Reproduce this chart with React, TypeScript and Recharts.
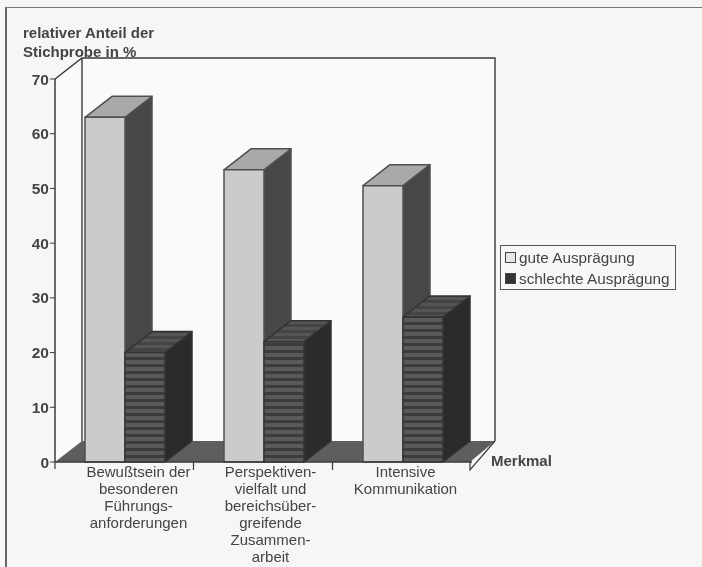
import { BarChart, Bar, XAxis, YAxis, Legend, usePlotArea } from 'recharts';

const categories = [
  ['Bewußtsein der', 'besonderen', 'Führungs-', 'anforderungen'],
  ['Perspektiven-', 'vielfalt und', 'bereichsüber-', 'greifende', 'Zusammen-', 'arbeit'],
  ['Intensive', 'Kommunikation'],
];
const guteValues = [63, 53.4, 50.5];
const schlechteValues = [20, 22, 26.5];
const yTicks = [0, 10, 20, 30, 40, 50, 60, 70];
const yTitle = ['relativer Anteil der', 'Stichprobe in %'];
const xTitle = 'Merkmal';
const seriesNames = ['gute Ausprägung', 'schlechte Ausprägung'];

const data = categories.map((lines, i) => ({
  name: lines.join(' '),
  gute: guteValues[i],
  schlechte: schlechteValues[i],
}));

const DX = 27;
const DY = 21;
const INK = '#3a3a3a';
const TEXT = '#444444';
const FONT = '"Liberation Sans", Arial, sans-serif';
const labelShift = [14, 7, 3];

function Box({ x, y, width, height, front, top, side, edge }: any) {
  const r = x + width;
  const b = y + height;
  return (
    <g stroke={edge} strokeWidth={1.5} strokeLinejoin="round">
      <polygon points={`${r},${y} ${r + DX},${y - DY} ${r + DX},${b - DY} ${r},${b}`} fill={side} />
      <polygon points={`${x},${y} ${x + DX},${y - DY} ${r + DX},${y - DY} ${r},${y}`} fill={top} />
      <rect x={x} y={y} width={width} height={height} fill={front} />
    </g>
  );
}

function GoodBar(props: any) {
  return <Box {...props} front="#cbcbcb" top="#a9a9a9" side="#474747" edge="#505050" />;
}

function BadBar(props: any) {
  return <Box {...props} front="url(#stripes)" top="url(#stripesTop)" side="#2b2b2b" edge="#333333" />;
}

// back wall, floor, frame lines and axis titles
function Room() {
  const p = usePlotArea();
  if (!p) return null;
  const l = p.x;
  const r = p.x + p.width - 2;
  const t = p.y;
  const b = p.y + p.height;
  return (
    <g>
      <defs>
        <pattern id="stripes" width="6" height="7" patternUnits="userSpaceOnUse">
          <rect width="6" height="7" fill="#5a5a5a" />
          <rect width="6" height="3" fill="#3c3c3c" />
        </pattern>
        <pattern id="stripesTop" width="5" height="6" patternUnits="userSpaceOnUse">
          <rect width="5" height="6" fill="#555555" />
          <rect width="5" height="3" fill="#444444" />
        </pattern>
      </defs>
      <polygon
        points={`${l + DX},${t - DY} ${r + DX - 2},${t - DY} ${r + DX - 2},${b - DY} ${l + DX},${b - DY}`}
        fill="#fafafa"
      />
      <polygon points={`${l},${t} ${l + DX},${t - DY} ${l + DX},${b - DY} ${l},${b}`} fill="#fafafa" />
      <polygon points={`${l},${b} ${l + DX},${b - DY} ${r + DX - 2},${b - DY} ${r},${b}`} fill="#5e5e5e" />
      <path
        d={`M${l},${t} L${l + DX},${t - DY} H${r + DX - 2} V${b - DY} M${l + DX},${t - DY} V${b - DY}`}
        fill="none"
        stroke={INK}
        strokeWidth={1.4}
      />
      <path d={`M${l},${b} V${b + 7} M${r},${b} V${b + 8} L${r + DX - 2},${b - DY}`} fill="none" stroke={INK} strokeWidth={1.2} />
      <text fontFamily={FONT} fontSize={15} fontWeight="bold" fill={TEXT}>
        {yTitle.map((line, i) => (
          <tspan key={line} x={23} y={38 + i * 18.5}>
            {line}
          </tspan>
        ))}
      </text>
      <text x={491} y={b + 4} fontFamily={FONT} fontSize={15} fontWeight="bold" fill={TEXT}>
        {xTitle}
      </text>
    </g>
  );
}

function CategoryTick({ x, y, index }: any) {
  const lines = categories[index] || [];
  return (
    <g>
      {index < 2 && <line x1={x + 69} x2={x + 69} y1={y - 8} y2={y} stroke={INK} strokeWidth={1.2} />}
      <text textAnchor="middle" fontFamily={FONT} fontSize={15} fill={TEXT}>
        {lines.map((line, i) => (
          <tspan key={line} x={x + labelShift[index]} y={y + 7 + i * 17}>
            {line}
          </tspan>
        ))}
      </text>
    </g>
  );
}

function LegendBox() {
  return (
    <div
      style={{
        width: 176,
        height: 45,
        border: '1.5px solid #555',
        boxSizing: 'border-box',
        background: '#f7f7f7',
        fontFamily: FONT,
        fontSize: 15.3,
        color: TEXT,
        padding: '1px 0 0 4px',
        lineHeight: '21px',
      }}
    >
      {seriesNames.map((name, i) => (
        <div key={name} style={{ display: 'flex', alignItems: 'center', whiteSpace: 'nowrap' }}>
          <span
            style={{
              width: 9,
              height: 9,
              marginRight: 3,
              border: '1px solid #444',
              background: i === 0 ? '#e6e6e6' : '#333',
            }}
          />
          {name}
        </div>
      ))}
    </div>
  );
}

export default function App() {
  return (
    <div
      style={{
        position: 'absolute',
        left: 0,
        top: 0,
        width: 702,
        height: 567,
        background: '#f6f6f6',
        overflow: 'hidden',
        filter: 'blur(0.5px)',
      }}
    >
      <div
        style={{
          position: 'absolute',
          left: 5,
          top: 7,
          width: 700,
          height: 570,
          borderLeft: '2px solid #666',
          borderTop: '1.5px solid #777',
        }}
      />
      <div style={{ position: 'absolute', left: 0, top: 0 }}>
        <BarChart
          width={702}
          height={567}
          data={data}
          barSize={40}
          barGap={0}
          margin={{ top: 79, right: 54, bottom: 0, left: 0 }}
        >
          <Room />
          <XAxis
            dataKey="name"
            height={105}
            interval={0}
            tickLine={false}
            axisLine={{ stroke: INK, strokeWidth: 1.5 }}
            tick={CategoryTick}
          />
          <YAxis
            width={55}
            domain={[0, 70]}
            ticks={yTicks}
            tickSize={5}
            tickMargin={1}
            tickLine={{ stroke: INK }}
            axisLine={{ stroke: INK, strokeWidth: 1.5 }}
            tick={{ fontFamily: FONT, fontSize: 15.5, fontWeight: 'bold', fill: TEXT }}
          />
          <Legend
            layout="vertical"
            align="right"
            verticalAlign="top"
            content={LegendBox}
            wrapperStyle={{ left: 500, top: 245, width: 176 }}
          />
          <Bar dataKey="gute" name={seriesNames[0]} shape={GoodBar} isAnimationActive={false} />
          <Bar dataKey="schlechte" name={seriesNames[1]} shape={BadBar} isAnimationActive={false} />
        </BarChart>
      </div>
    </div>
  );
}
